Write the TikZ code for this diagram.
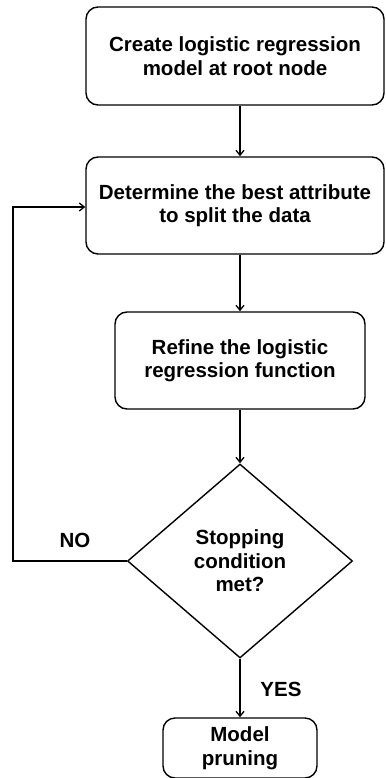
\documentclass[tikz,border=0pt]{standalone}
\usepackage{fontspec}
\setmainfont{Liberation Sans}
\usetikzlibrary{shapes.geometric,arrows.meta}
\begin{document}
\begin{tikzpicture}[x=1pt,y=-1pt,
  font=\bfseries\fontsize{20.5}{23.5}\selectfont,
  stepbox/.style={draw, line width=1.4pt, rounded corners=12pt, align=center, inner sep=0pt},
  decision/.style={draw, diamond, line width=1.4pt, align=center, inner sep=0pt, aspect=1.16},
  flow/.style={line width=1.3pt, -{Straight Barb[length=5pt,width=8pt]}},
  lbl/.style={inner sep=0pt}]
\useasboundingbox (0,0) rectangle (385,778);
\node[stepbox, minimum width=298pt, minimum height=98pt] (create) at (235,56) {Create logistic regression\\model at root node};
\node[stepbox, minimum width=298pt, minimum height=97pt] (split) at (235,205.5) {Determine the best attribute\\to split the data};
\node[stepbox, minimum width=250pt, minimum height=97pt] (refine) at (240,360.5) {Refine the logistic\\regression function};
\node[decision, minimum width=225pt, minimum height=194pt] (stop) at (240,561) {Stopping\\condition\\met?};
\node[stepbox, minimum width=154pt, minimum height=60pt] (prune) at (240,748) {Model\\pruning};
\coordinate (loopdown) at (13,561);
\coordinate (loopup) at (13,207);
\draw[flow] (create.south -| refine) -- (split.north -| refine);
\draw[flow] (split.south -| refine) -- (refine.north);
\draw[flow] (refine.south) -- (stop.north);
\draw[flow] (stop.south) -- (prune.north);
\draw[flow] (stop.west) -- (loopdown) -- (loopup) -- (loopup -| split.west);
\node[lbl] (no) at (75,540) {NO};
\node[lbl] (yes) at (281,689) {YES};
\end{tikzpicture}
\end{document}
